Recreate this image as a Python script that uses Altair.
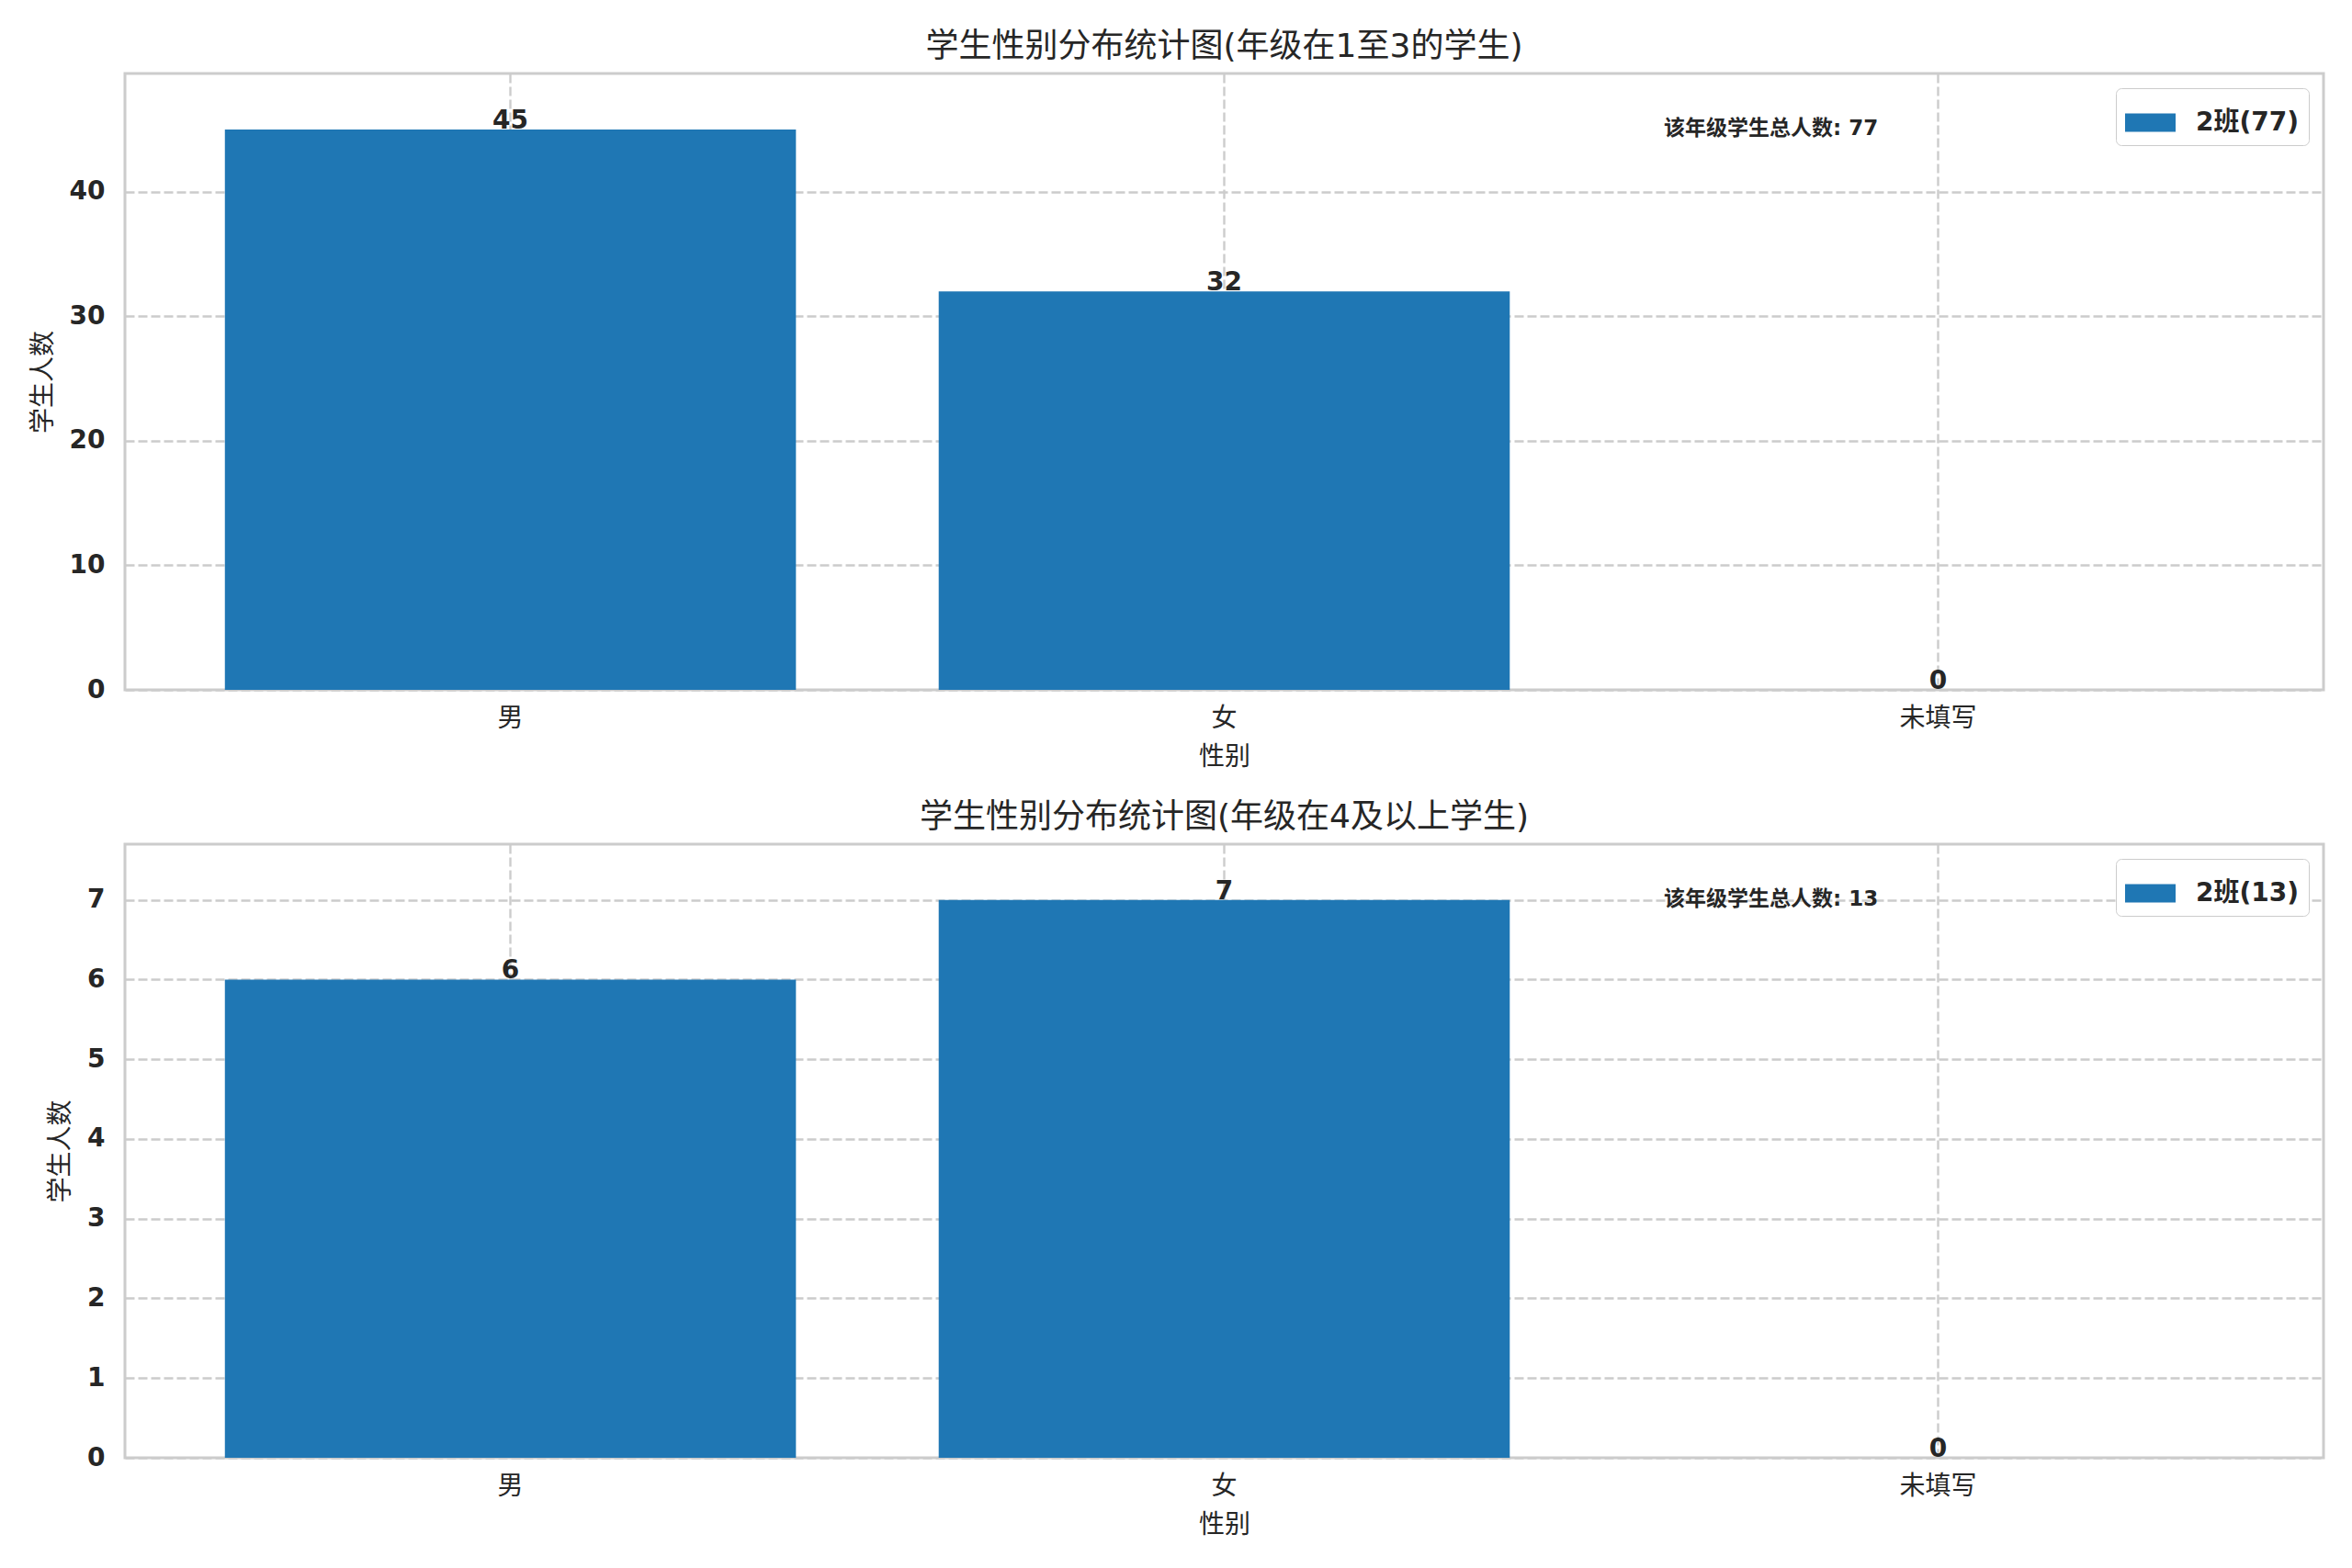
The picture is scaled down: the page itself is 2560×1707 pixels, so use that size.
import altair as alt
import pandas as pd

categories = ["男", "女", "未填写"]
counts_low = [45, 32, 0]
counts_high = [6, 7, 0]
series_label = "2班"
titles = ["学生性别分布统计图(年级在1至3的学生)", "学生性别分布统计图(年级在4及以上学生)"]
y_ticks_low = [0, 10, 20, 30, 40]
y_ticks_high = [0, 1, 2, 3, 4, 5, 6, 7]
x_title = "性别"
y_title = "学生人数"
total_prefix = "该年级学生总人数"

FONT = "DejaVu Sans, Noto Sans CJK SC"
TEXT = "#262626"
GRID = "#cccccc"
BLUE = "#1f77b4"
W = 2393


def panel(counts, ticks, title, h):
    total = sum(counts)
    df = pd.DataFrame({
        "gender": categories,
        "count": counts,
        "series": [f"{series_label}({total})"] * len(categories),
    })
    ymax = max(counts) * 1.1
    base = alt.Chart(df)
    x = alt.X("gender:N", sort=categories,
              scale=alt.Scale(paddingInner=0.2, paddingOuter=0.14),
              axis=alt.Axis(title=x_title, labelAngle=0, labelFontWeight="normal",
                            labelPadding=17, titlePadding=14))
    y = alt.Y("count:Q", scale=alt.Scale(domain=[0, ymax], nice=False, zero=True),
              axis=alt.Axis(values=ticks, format="d", title=y_title,
                            labelPadding=22, titlePadding=14))
    bars = base.mark_bar(stroke=None).encode(
        x=x, y=y,
        color=alt.Color("series:N", scale=alt.Scale(range=[BLUE]),
                        legend=alt.Legend(
                            title=None, orient="top-right", offset=16,
                            labelFont=FONT, labelFontSize=28, labelFontWeight="bold",
                            labelColor=TEXT, labelLimit=400, labelOffset=22,
                            symbolType="M-1,-0.36L1,-0.36L1,0.36L-1,0.36Z",
                            symbolSize=3025, symbolStrokeWidth=0,
                            padding=10, fillColor="white", strokeColor=GRID,
                            cornerRadius=6)),
    )
    labels = base.mark_text(font=FONT, fontSize=28, fontWeight="bold", color=TEXT,
                            baseline="alphabetic", dy=-1).encode(
        x=alt.X("gender:N", sort=categories), y="count:Q", text="count:Q")
    note = alt.Chart(pd.DataFrame({"t": [f"{total_prefix}: {total}"]})).mark_text(
        align="left", baseline="middle", font=FONT, fontSize=23, fontWeight="bold",
        color=TEXT).encode(x=alt.value(0.70 * W), y=alt.value(60), text="t:N")
    return alt.layer(bars, labels, note).properties(
        width=W, height=h,
        title=alt.TitleParams(title, font=FONT, fontSize=36, fontWeight="normal",
                              color=TEXT, offset=10, anchor="middle"))


top = panel(counts_low, y_ticks_low, titles[0], 671)
bottom = panel(counts_high, y_ticks_high, titles[1], 668)

chart = alt.vconcat(top, bottom, spacing=168, bounds="flush").resolve_scale(
    color="independent", x="independent", y="independent"
).resolve_legend(color="independent").properties(
    padding={"left": 23, "top": 23, "right": 0, "bottom": 0}
).configure_view(stroke=GRID, strokeWidth=3).configure_axis(
    grid=True, gridDash=[10, 4], gridColor=GRID, gridWidth=2.4,
    domain=False, ticks=False,
    labelFont=FONT, labelFontSize=28, labelFontWeight="bold", labelColor=TEXT,
    titleFont=FONT, titleFontSize=28, titleFontWeight="normal", titleColor=TEXT,
)

chart.save("out.html", embed_options={"renderer": "svg", "actions": False})
